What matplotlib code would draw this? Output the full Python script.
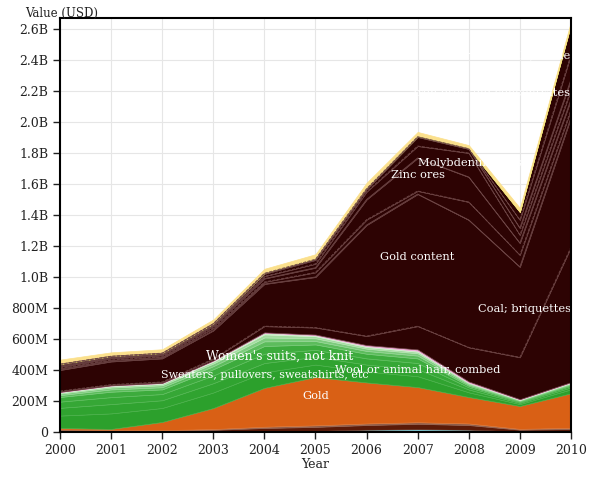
import numpy as np
import matplotlib
matplotlib.use("Agg")
import matplotlib.pyplot as plt
from matplotlib.ticker import FuncFormatter

plt.rcParams['font.family'] = ['DejaVu Serif']

years = list(range(2000, 2011))

# export values, USD millions, stacked from the bottom up
cyan_layer = [2, 2, 3, 4, 6, 8, 15, 18, 15, 5, 4]
brown_layer = [10, 8, 6, 10, 20, 25, 30, 35, 30, 10, 15]
muted_layer = [5, 3, 3, 5, 8, 10, 10, 10, 10, 5, 8]
gold = [9, 7, 53, 136, 251, 312, 265, 227, 171, 148, 223]
green1 = [80, 100, 90, 100, 100, 80, 70, 70, 30, 12, 25]
green2 = [50, 60, 50, 60, 60, 50, 45, 45, 18, 8, 13]
green3 = [40, 45, 40, 50, 60, 45, 40, 40, 14, 6, 10]
green4 = [30, 35, 30, 40, 50, 35, 30, 30, 10, 5, 7]
green5 = [12, 15, 14, 20, 30, 22, 18, 18, 8, 4, 5]
green6 = [10, 12, 13, 17, 25, 18, 15, 15, 7, 3, 4]
green7 = [6, 8, 9, 12, 20, 13, 10, 10, 5, 2, 4]
green8 = [4, 5, 5, 6, 10, 7, 7, 7, 2, 2, 2]
pink_layer = [1, 1, 1, 2, 3, 4, 6, 8, 6, 2, 2]
coal = [5, 5, 6, 10, 40, 45, 58, 150, 220, 270, 870]
gold_content = [136, 149, 152, 183, 272, 326, 716, 852, 822, 583, 836]
dark1 = [10, 10, 10, 15, 13, 30, 35, 20, 116, 77, 51]
zinc = [10, 10, 10, 13, 22, 30, 130, 213, 161, 77, 65]
molybdenum = [10, 8, 8, 9, 15, 25, 50, 77, 155, 52, 64]
dark4 = [7, 5, 5, 6, 15, 25, 15, 58, 26, 45, 65]
dark5 = [1, 1, 1, 1, 4, 5, 5, 2, 2, 52, 161]
dark6 = [1, 1, 1, 1, 2, 5, 5, 2, 2, 51, 194]
lime_layer = [0, 0, 0, 0, 1, 1, 3, 5, 3, 1, 1]
yellow_layer = [28, 24, 24, 26, 26, 26, 30, 24, 18, 26, 20]

layers = [cyan_layer, brown_layer, muted_layer, gold,
          green1, green2, green3, green4, green5, green6, green7, green8,
          pink_layer, coal, gold_content, dark1, zinc, molybdenum,
          dark4, dark5, dark6, lime_layer, yellow_layer]
dark = '#2d0303'
colors = ['#7fd6e3', '#5a1a08', '#8a5a48', '#d96015',
          '#2ca02c', '#30a330', '#36a736', '#3dab3d', '#5cbc5c', '#7dcb7d', '#a2dc9f', '#c8ebc4',
          '#f0a8d8', dark, dark, dark, dark, dark, dark, dark, dark, '#c9d94a', '#fbe08c']
edges = ['#7fd6e3', '#6a2a18', '#9a6a58', '#e07a3a',
         '#45ad45', '#4cb24c', '#55b855', '#60bf60', '#7bcb7b', '#98d898', '#b8e6b5', '#d8f1d5',
         '#f0a8d8', '#6a4040', '#6a4040', '#6a4040', '#6a4040', '#6a4040', '#6a4040',
         '#6a4040', '#6a4040', '#c9d94a', '#fbe08c']

fig = plt.figure(figsize=(5.9, 4.79), dpi=100)
ax = fig.add_axes([0.1017, 0.0981, 0.866, 0.864])

vals = np.array(layers, dtype=float) * 1e6
polys = ax.stackplot(years, vals, colors=colors, linewidth=0.5)
for p, ec in zip(polys, edges):
    p.set_edgecolor(ec)

# thin boundary lines inside the dark mineral block
cum = np.cumsum(vals, axis=0)
styles = ['--', '-', '--', '-', '--', '-', '--']
for k, st in zip(range(13, 20), styles):
    ax.plot(years, cum[k], color='#6e4646', lw=0.6, ls=st, zorder=3)

txt = dict(color='#ffffff', clip_on=True, zorder=5, va='center')
ax.text(2004.3, 490e6, "Women's suits, not knit", ha='center', fontsize=9, **txt)
ax.text(2004.0, 368e6, "Sweaters, pullovers, sweatshirts, etc", ha='center', fontsize=8, **txt)
ax.text(2005.0, 232e6, "Gold", ha='center', fontsize=8.2, **txt)
ax.text(2007.0, 406e6, "Wool or animal hair, combed", ha='center', fontsize=8.2, **txt)
ax.text(2007.0, 1.132e9, "Gold content", ha='center', fontsize=8.2, **txt)
ax.text(2009.1, 0.795e9, "Coal; briquettes", ha='center', fontsize=8.2, **txt)
ax.text(2007.0, 1.66e9, "Zinc ores", ha='center', fontsize=8.2, **txt)
ax.text(2007.0, 1.735e9, "Molybdenum ores", ha='left', fontsize=8.2, **txt)
ax.text(2009.98, 2.43e9, "Petroleum oils, crude", ha='right', fontsize=8.2, **txt)
ax.text(2009.98, 2.19e9, "Iron ores and concentrates", ha='right', fontsize=8.2, **txt)

ax.set_xlim(2000, 2010)
ax.set_ylim(0, 2.67e9)
ax.set_xticks(years)
ax.set_yticks(np.arange(0, 2.61e9, 2e8))


def fmt(v, pos):
    if v == 0:
        return '0'
    if v >= 1e9:
        return '%.1fB' % (v / 1e9)
    return '%dM' % round(v / 1e6)


ax.yaxis.set_major_formatter(FuncFormatter(fmt))
ax.grid(True, color='#e6e6e6', lw=0.8)
ax.set_axisbelow(True)
ax.tick_params(labelsize=9, colors='#222222', length=5, width=1)
for s in ax.spines.values():
    s.set_linewidth(1.5)
    s.set_color('black')
    s.set_zorder(6)

ax.set_xlabel('Year', fontsize=9, labelpad=1, color='#222222')
fig.text(0.042, 0.971, 'Value (USD)', fontsize=8.5, color='#222222', va='center')

fig.savefig('out.png', dpi=100)
